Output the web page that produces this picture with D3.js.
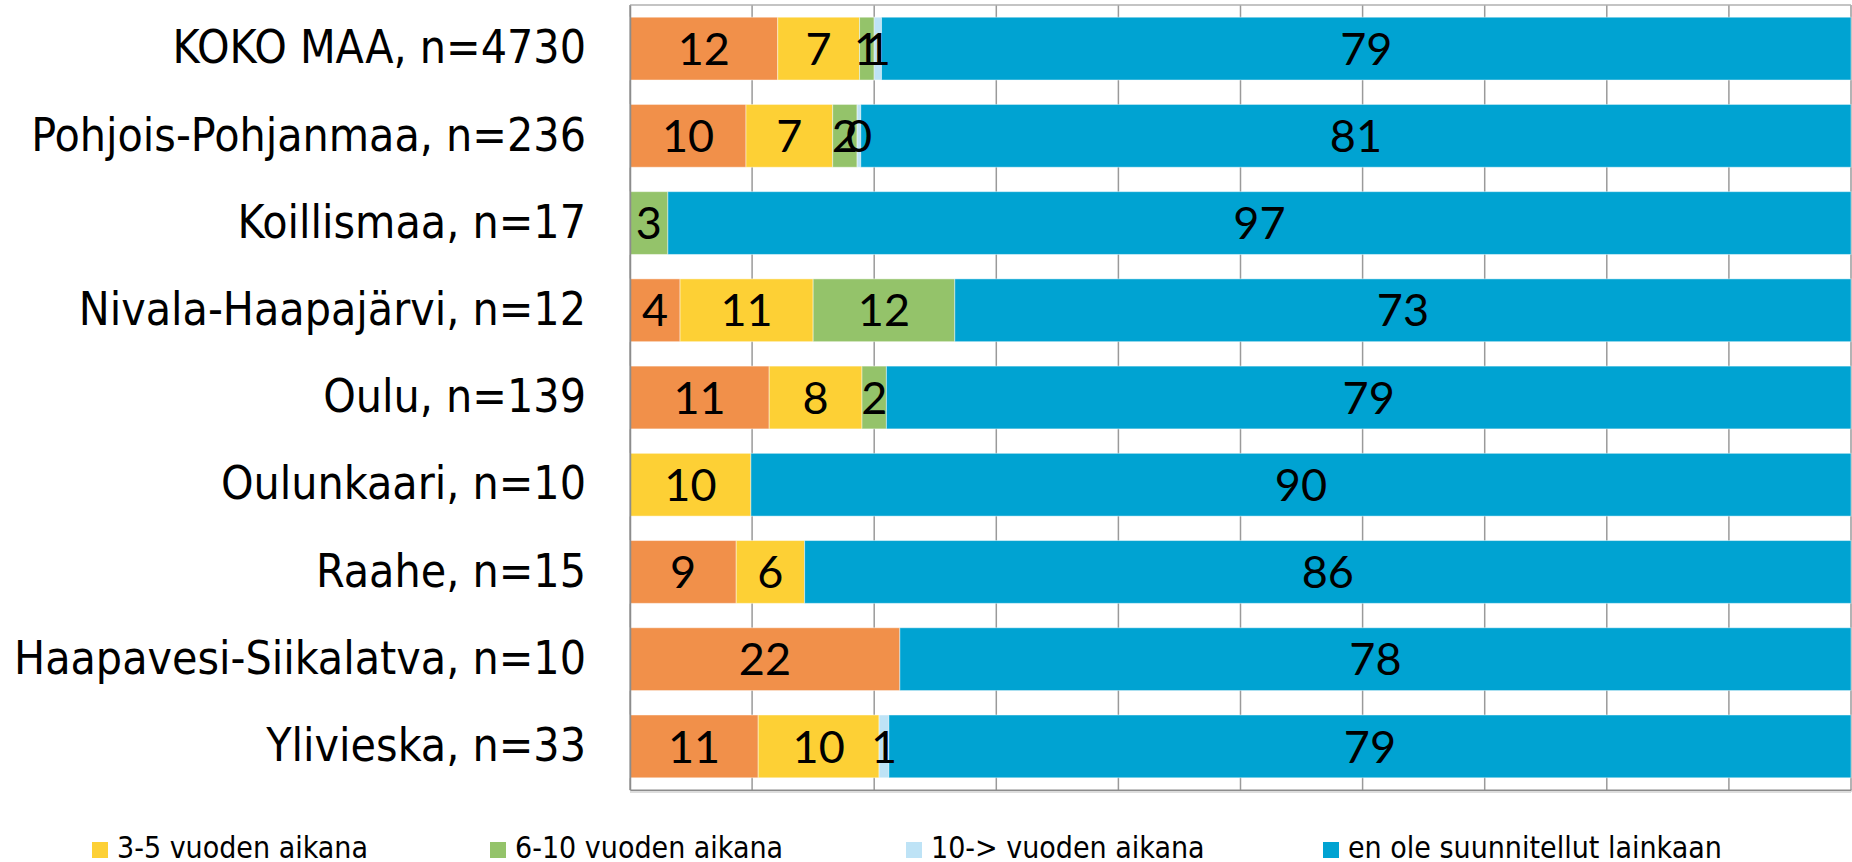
<!DOCTYPE html>
<html>
<head>
<meta charset="utf-8">
<script src="https://cdn.jsdelivr.net/npm/d3@7"></script>
<style>
  body { margin: 0; background: #fff; overflow: hidden; }
  svg { display: block; }
</style>
</head>
<body>
<script>
// categories, top to bottom
const regions = [
  "KOKO MAA, n=4730",
  "Pohjois-Pohjanmaa, n=236",
  "Koillismaa, n=17",
  "Nivala-Haapajärvi, n=12",
  "Oulu, n=139",
  "Oulunkaari, n=10",
  "Raahe, n=15",
  "Haapavesi-Siikalatva, n=10",
  "Ylivieska, n=33"
];

const seriesNames = [
  "1-2 vuoden aikana",
  "3-5 vuoden aikana",
  "6-10 vuoden aikana",
  "10-> vuoden aikana",
  "en ole suunnitellut lainkaan"
];

// percentages per series, one per region
const s1_2 = [12.1, 9.5, 0, 4.1, 11.4, 0, 8.7, 22.1, 10.5];
const s3_5 = [6.7, 7.1, 0, 10.9, 7.6, 9.9, 5.6, 0, 9.9];
const s6_10 = [1.2, 2.0, 3.1, 11.6, 2.0, 0, 0, 0, 0];
const s10plus = [0.6, 0.3, 0, 0, 0, 0, 0, 0, 0.8];
const sNever = [79.4, 81.1, 96.9, 73.4, 79.0, 90.1, 85.7, 77.9, 78.8];

// labels as shown in the chart (null = no label)
const lbl1_2 = [12, 10, null, 4, 11, null, 9, 22, 11];
const lbl3_5 = [7, 7, null, 11, 8, 10, 6, null, 10];
const lbl6_10 = [1, 2, 3, 12, 2, null, null, null, null];
const lbl10plus = [1, 0, null, null, null, null, null, null, 1];
const lblNever = [79, 81, 97, 73, 79, 90, 86, 78, 79];

const colors = ["#F1904A", "#FDD035", "#94C36A", "#BEE3F6", "#00A3D2"];
const xTicks = [0, 10, 20, 30, 40, 50, 60, 70, 80, 90, 100];

const W = 1852, H = 862;
const m = { left: 630, right: 1851, top: 5, bottom: 790 };

const values = [s1_2, s3_5, s6_10, s10plus, sNever];
const labels = [lbl1_2, lbl3_5, lbl6_10, lbl10plus, lblNever];

const rows = regions.map((r, i) => {
  const row = { region: r };
  seriesNames.forEach((s, k) => { row[s] = values[k][i]; });
  return row;
});

const stacked = d3.stack().keys(seriesNames)(rows);

const x = d3.scaleLinear().domain([0, 100]).range([m.left, m.right]);
const y = d3.scaleBand().domain(regions).range([m.top, m.bottom])
  .paddingInner(0.28).paddingOuter(0.14);

const svg = d3.select("body").append("svg")
  .attr("width", W).attr("height", H);

// gridlines
svg.append("g")
  .selectAll("line")
  .data(xTicks)
  .join("line")
  .attr("x1", d => x(d)).attr("x2", d => x(d))
  .attr("y1", m.top).attr("y2", m.bottom)
  .attr("stroke", "#9a9a9a")
  .attr("stroke-width", 1.5);

svg.append("line")
  .attr("x1", m.left).attr("x2", m.right)
  .attr("y1", m.top).attr("y2", m.top)
  .attr("stroke", "#b0b0b0").attr("stroke-width", 1.5);

// bars
const layer = svg.append("g")
  .selectAll("g")
  .data(stacked)
  .join("g")
  .attr("fill", (d, k) => colors[k]);

layer.selectAll("rect")
  .data(d => d)
  .join("rect")
  .attr("x", d => x(d[0]))
  .attr("y", d => y(d.data.region))
  .attr("width", d => x(d[1]) - x(d[0]))
  .attr("height", y.bandwidth())
  .attr("stroke", "#ffffff")
  .attr("stroke-opacity", 0.45)
  .attr("stroke-width", 1);

// x axis line
svg.append("g")
  .attr("transform", `translate(0,${m.bottom})`)
  .call(d3.axisBottom(x).tickValues(xTicks).tickSize(0).tickFormat(""))
  .call(g => g.select(".domain").attr("stroke", "#8c8c8c").attr("stroke-width", 2));

svg.append("line")
  .attr("x1", m.left).attr("x2", m.right)
  .attr("y1", m.bottom + 2).attr("y2", m.bottom + 2)
  .attr("stroke", "#dddddd").attr("stroke-width", 2);

// y axis labels
svg.append("g")
  .attr("transform", `translate(${m.left},0)`)
  .call(d3.axisLeft(y).tickSize(0).tickPadding(44))
  .call(g => g.select(".domain").attr("stroke", "#8c8c8c").attr("stroke-width", 1.5))
  .call(g => g.selectAll("text")
    .attr("font-family", "'DejaVu Sans Condensed', 'DejaVu Sans', sans-serif")
    .attr("font-size", 46)
    .attr("fill", "#000"));

// data labels
const labelRows = [];
stacked.forEach((ser, k) => {
  ser.forEach((d, i) => {
    if (labels[k][i] !== null) {
      labelRows.push({ x0: d[0], x1: d[1], region: d.data.region, text: labels[k][i] });
    }
  });
});

svg.append("g")
  .selectAll("text")
  .data(labelRows)
  .join("text")
  .attr("x", d => x((d.x0 + d.x1) / 2))
  .attr("y", d => y(d.region) + y.bandwidth() / 2)
  .attr("dy", "0.36em")
  .attr("text-anchor", "middle")
  .attr("font-family", "Lato, sans-serif")
  .attr("font-size", 45)
  .attr("fill", "#000")
  .text(d => d.text);

// legend (visible items)
const legendItems = seriesNames.slice(1).map((s, k) => ({ name: s, color: colors[k + 1] }));
const legendX = [92, 490, 906, 1323];

const leg = svg.append("g")
  .selectAll("g")
  .data(legendItems)
  .join("g")
  .attr("transform", (d, i) => `translate(${legendX[i]},842)`);

leg.append("rect")
  .attr("width", 16).attr("height", 16)
  .attr("fill", d => d.color);

leg.append("text")
  .attr("x", 25).attr("y", 16)
  .attr("font-family", "'DejaVu Sans Condensed', 'DejaVu Sans', sans-serif")
  .attr("font-size", 30)
  .attr("fill", "#000")
  .text(d => d.name);
</script>
</body>
</html>
